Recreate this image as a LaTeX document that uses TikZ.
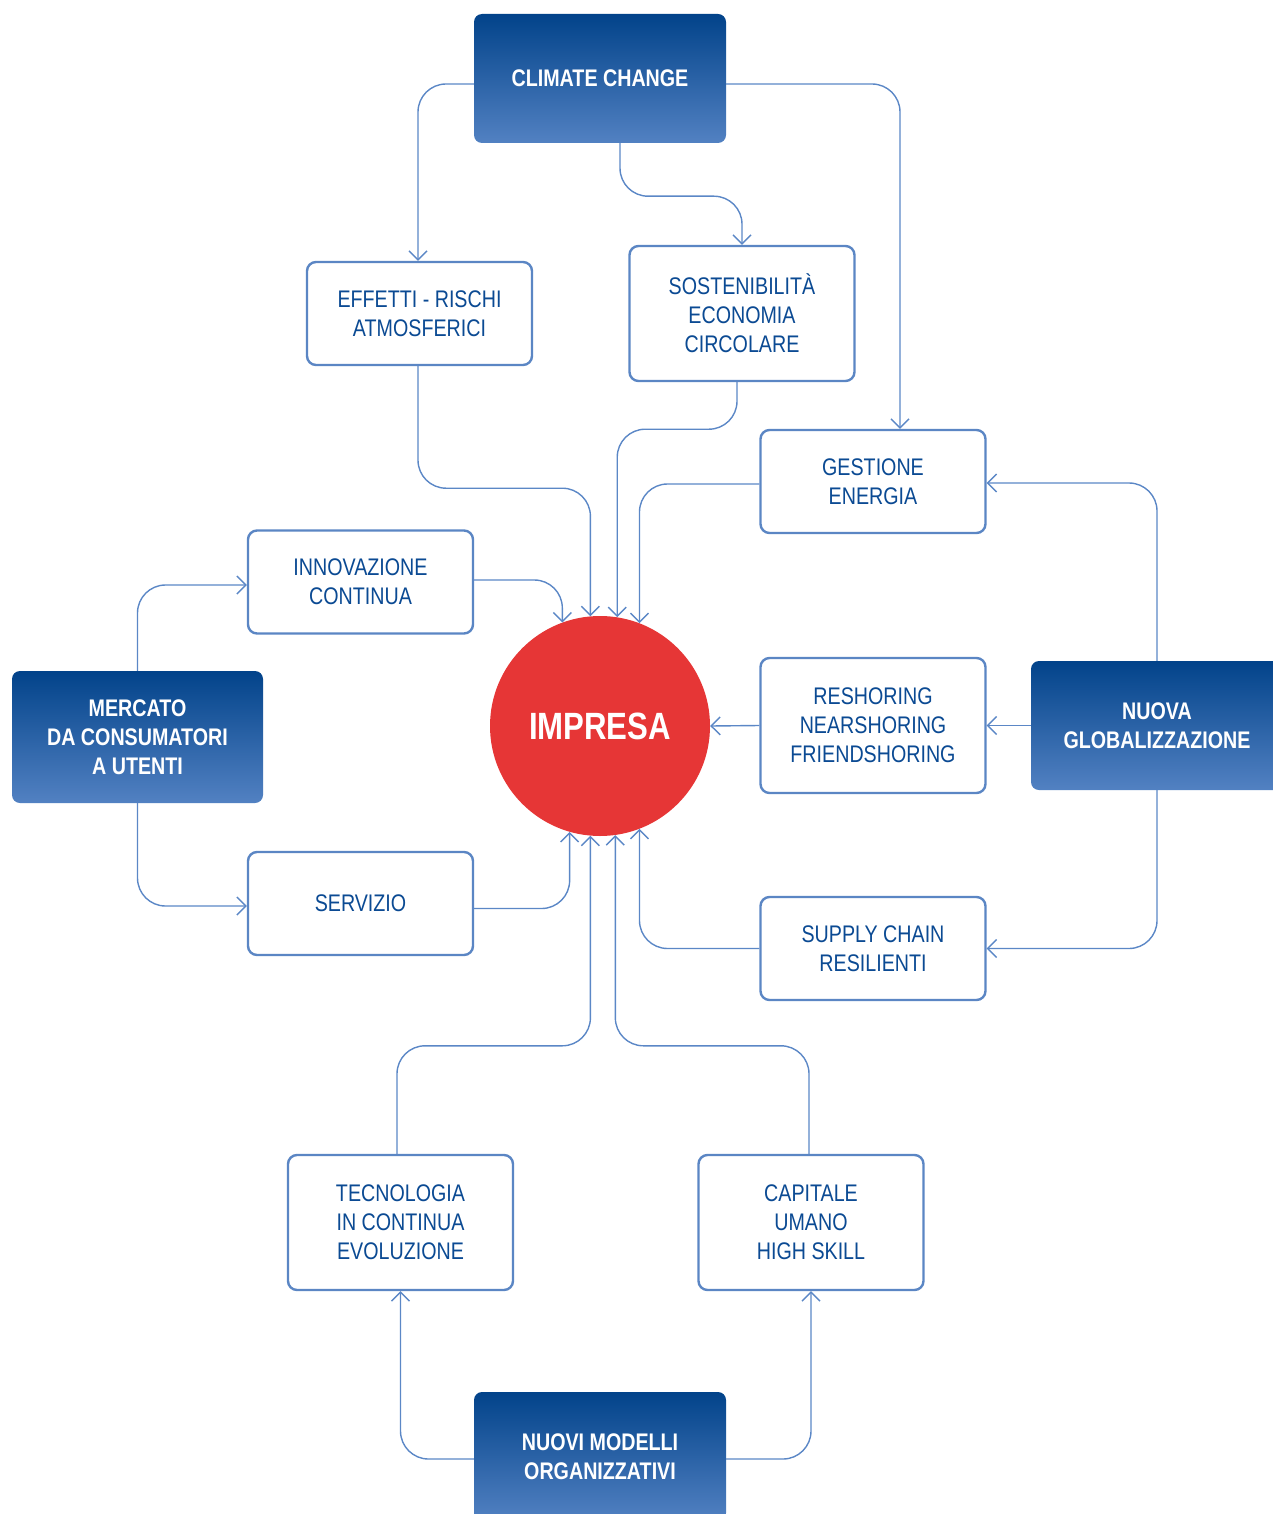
\documentclass[tikz,border=0pt]{standalone}
\usepackage{fontspec}
\setmainfont{Liberation Sans}[FakeStretch=0.82]
\usetikzlibrary{arrows.meta,calc}
\definecolor{dtop}{HTML}{02438A}
\definecolor{dbot}{HTML}{5281C2}
\definecolor{bdr}{HTML}{5B86C4}
\definecolor{lnk}{HTML}{5B87C6}
\definecolor{txt}{HTML}{0B4A93}
\definecolor{impred}{HTML}{E63636}
\begin{document}
\begin{tikzpicture}[x=1pt,y=-1pt,
  wbox/.style={draw=bdr, line width=2.4pt, rounded corners=9pt, fill=white,
    minimum width=225pt, minimum height=103pt, align=center, text=txt,
    font=\fontsize{24}{29}\selectfont, inner sep=0pt},
  dbox/.style={rounded corners=8pt, top color=dtop, bottom color=dbot,
    minimum width=252pt, minimum height=129pt, align=center, text=white,
    font=\bfseries\fontsize{24}{29}\selectfont, inner sep=0pt},
  conn/.style={draw=lnk, line width=1.4pt, rounded corners=28pt,
    -{Straight Barb[length=9pt,width=18pt]}},
]
\useasboundingbox (0,0) rectangle (1273,1514);
\clip (0,0) rectangle (1273,1514);

% main drivers
\node[dbox] (climate) at (600,78.5) {CLIMATE CHANGE};
\node[dbox, minimum width=251pt, minimum height=132pt] (mercato) at (137.5,737) {MERCATO\\DA CONSUMATORI\\A UTENTI};
\node[dbox] (nuova) at (1157,725.5) {NUOVA\\GLOBALIZZAZIONE};
\node[dbox] (nuovi) at (600,1456.5) {NUOVI MODELLI\\ORGANIZZATIVI};

% centre
\node[circle, fill=impred, minimum size=220pt, inner sep=0pt, text=white,
  font=\bfseries\fontsize{38}{44}\selectfont] (impresa) at (600,726) {IMPRESA};

% intermediate boxes
\node[wbox] (effetti) at (419.5,313.5) {EFFETTI - RISCHI\\ATMOSFERICI};
\node[wbox, minimum height=135pt] (sost) at (742,313.5) {SOSTENIBILITÀ\\ECONOMIA\\CIRCOLARE};
\node[wbox] (gest) at (873,481.5) {GESTIONE\\ENERGIA};
\node[wbox] (innov) at (360.5,582) {INNOVAZIONE\\CONTINUA};
\node[wbox, minimum height=135pt] (resh) at (873,725.5) {RESHORING\\NEARSHORING\\FRIENDSHORING};
\node[wbox] (serv) at (360.5,903.5) {SERVIZIO};
\node[wbox] (supply) at (873,948.5) {SUPPLY CHAIN\\RESILIENTI};
\node[wbox, minimum height=135pt] (tecn) at (400.5,1222.5) {TECNOLOGIA\\IN CONTINUA\\EVOLUZIONE};
\node[wbox, minimum height=135pt] (capit) at (811,1222.5) {CAPITALE\\UMANO\\HIGH SKILL};

% climate change
\draw[conn] ($(climate.west)+(0,5.5)$) -| ([xshift=-1.5pt]effetti.north);
\draw[conn] ([xshift=20pt]climate.south) -- ++(0,53) -| (sost.north);
\draw[conn] ($(climate.east)+(0,5.5)$) -| ([xshift=27pt]gest.north);

% to impresa from above
\draw[conn] ([xshift=-1.5pt]effetti.south) -- ++(0,122) -| (impresa.95.2);
\draw[conn] ([xshift=-5pt]sost.south) -- ++(0,47) -| (impresa.81.6);
\draw[conn] ($(gest.west)+(0,2.5)$) -| (impresa.69.8);
\draw[conn] ($(innov.east)+(0,-2)$) -| (impresa.110.2);

% mercato
\draw[conn] (mercato.north) |- ($(innov.west)+(0,3)$);
\draw[conn] (mercato.south) |- ($(serv.west)+(0,2.5)$);

% to impresa from below
\draw[conn] ($(serv.east)+(0,5)$) -| (impresa.-106.9);
\draw[conn] ([xshift=-3.5pt]tecn.north) -- ++(0,-108) -| (impresa.-95.2);
\draw[conn] ([xshift=-2pt]capit.north) -- ++(0,-108) -| (impresa.-82.7);
\draw[conn] (supply.west) -| (impresa.-69.8);

% nuova globalizzazione
\draw[conn] (resh.west) -- (impresa.east);
\draw[conn] (nuova.west) -- (resh.east);
\draw[conn] (nuova.north) |- ($(gest.east)+(0,1.5)$);
\draw[conn] (nuova.south) |- (supply.east);

% nuovi modelli
\draw[conn] ($(nuovi.west)+(0,2.5)$) -| (tecn.south);
\draw[conn] ($(nuovi.east)+(0,2.5)$) -| (capit.south);
\end{tikzpicture}
\end{document}
